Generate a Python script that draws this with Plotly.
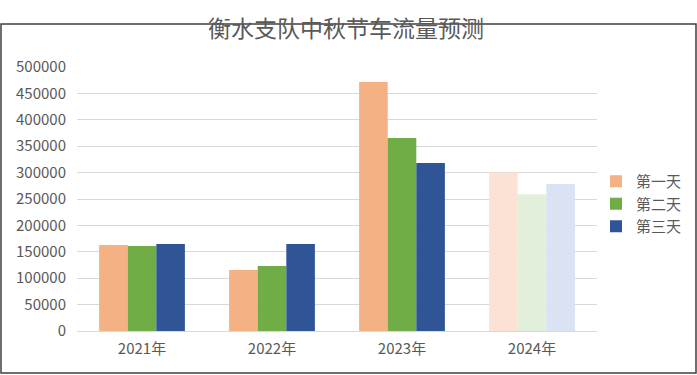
import plotly.graph_objects as go

categories = ["2021年", "2022年", "2023年", "2024年"]
series_names = ["第一天", "第二天", "第三天"]
day1 = [163000, 115500, 471500, 300000]
day2 = [161000, 123000, 365500, 259000]
day3 = [164800, 164800, 318000, 278500]
main_colors = ["#F4B183", "#70AD47", "#2F5597"]
forecast_colors = ["#FBE2D5", "#E2EFDA", "#DAE3F3"]
y_ticks = [0, 50000, 100000, 150000, 200000, 250000, 300000, 350000, 400000, 450000, 500000]

W, H = 697, 375
ml, mr, mt, mb = 77, 100, 67, 44
pw, ph = W - ml - mr, H - mt - mb

fig = go.Figure()
for name, vals, mc, fc in zip(series_names, [day1, day2, day3], main_colors, forecast_colors):
    colors = [mc] * (len(categories) - 1) + [fc]
    fig.add_trace(go.Bar(x=categories, y=vals, name=name,
                         marker=dict(color=colors, line=dict(width=0))))

font = "Noto Sans CJK SC, Microsoft YaHei, sans-serif"
fig.update_layout(
    width=W, height=H,
    margin=dict(l=ml, r=mr, t=mt, b=mb, pad=0, autoexpand=False),
    paper_bgcolor="white", plot_bgcolor="white",
    font=dict(family=font, color="#595959", size=15),
    title=dict(text="衡水支队中秋节车流量预测", x=346 / W, xanchor="center", xref="container",
               y=1 - 29 / H, yanchor="middle", yref="container",
               font=dict(size=23, color="#595959", family=font)),
    barmode="group", bargap=0.34, bargroupgap=0,
    legend=dict(x=(596 - ml) / pw, xanchor="left", y=(331 - 204) / ph, yanchor="middle",
                font=dict(size=15, color="#595959"), itemwidth=30,
                tracegroupgap=0, bgcolor="rgba(0,0,0,0)"),
    showlegend=True,
    xaxis=dict(showgrid=False, showline=True, linecolor="#D9D9D9", linewidth=1,
               ticks="", ticklabelstandoff=4, tickfont=dict(size=15, color="#595959")),
    yaxis=dict(range=[0, 500000], tickvals=y_ticks, ticktext=[str(v) for v in y_ticks],
               showgrid=True, gridcolor="#D9D9D9", gridwidth=1, zeroline=False,
               showline=False, ticks="", ticklabelstandoff=10,
               tickfont=dict(size=15, color="#595959")),
)

fig.add_shape(type="rect", xref="paper", yref="paper",
              x0=(-ml + 1) / pw, x1=(W - ml - 1) / pw,
              y0=(-mb + 2) / ph, y1=(H - mt - 1) / ph,
              line=dict(color="#3F3F3F", width=1.5), fillcolor="rgba(0,0,0,0)", layer="above")

fig.write_html("out.html", config={"displayModeBar": False},
               post_script="document.body.style.margin='0';document.body.style.padding='0';document.body.style.overflow='hidden';")
